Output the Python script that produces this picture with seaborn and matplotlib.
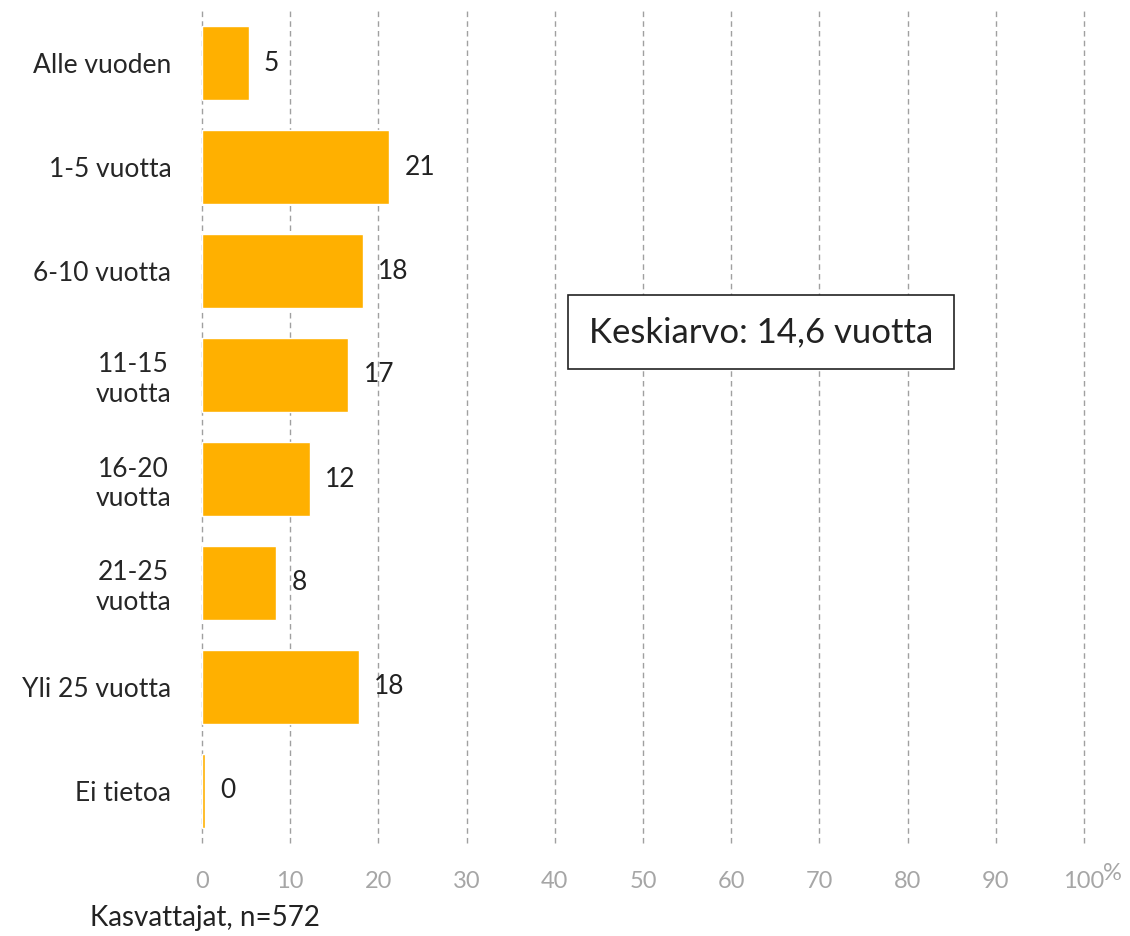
import matplotlib
matplotlib.use("Agg")
import matplotlib.pyplot as plt
import seaborn as sns

categories = ["Alle vuoden", "1-5 vuotta", "6-10 vuotta", "11-15\nvuotta",
              "16-20\nvuotta", "21-25\nvuotta", "Yli 25 vuotta", "Ei tietoa"]
values = [5.3, 21.2, 18.2, 16.6, 12.2, 8.4, 17.8, 0.35]
labels = ["5", "21", "18", "17", "12", "8", "18", "0"]
ticks = [0, 10, 20, 30, 40, 50, 60, 70, 80, 90, 100]
tick_labels = ["0", "10", "20", "30", "40", "50", "60", "70", "80", "90", "100"]

sns.set_style("white")
plt.rcParams["font.family"] = ["Lato", "DejaVu Sans"]

fig = plt.figure(figsize=(11.3, 9.36), dpi=100)
ax = fig.add_axes([202 / 1130, 1 - 843 / 936, (1084 - 202) / 1130, (843 - 11) / 936])

sns.barplot(x=values, y=categories, orient="h", color="#FFB000",
            width=0.71, saturation=1, ax=ax)

ax.set_xlim(0, 100)
ax.set_xticks(ticks)
ax.set_xticklabels(tick_labels, color="#A6A6A6", fontsize=17)
ax.tick_params(axis="x", length=0, pad=20)
ax.tick_params(axis="y", length=0, pad=22, labelsize=19)
for t in ax.get_yticklabels():
    t.set_multialignment("center")
ax.set_xlabel("")
ax.set_ylabel("")

for tk in ticks:
    ax.axvline(tk, color="#A0A0A0", linestyle=(0, (4, 3)), linewidth=1,
               zorder=0, clip_on=False)
for s in ax.spines.values():
    s.set_visible(False)

for i, (v, lab) in enumerate(zip(values, labels)):
    ax.annotate(lab, (v, i), xytext=(11, 0), textcoords="offset points",
                va="center", ha="left", fontsize=19, color="#222222")

ax.annotate("%", (100, -0.042), xycoords=ax.get_xaxis_transform(),
            xytext=(14, 3), textcoords="offset points", color="#A6A6A6",
            fontsize=17, ha="left", va="center")

ax.text(0.634, 0.614, "Keskiarvo: 14,6 vuotta", transform=ax.transAxes,
        fontsize=25, ha="center", va="center", color="#222222",
        bbox=dict(boxstyle="square,pad=0.6", facecolor="white",
                  edgecolor="#222222", linewidth=1.2))

fig.text(90 / 1130, 1 - 918 / 936, "Kasvattajat, n=572", fontsize=20,
         ha="left", va="center", color="#222222")

fig.savefig("out.png", dpi=100)
